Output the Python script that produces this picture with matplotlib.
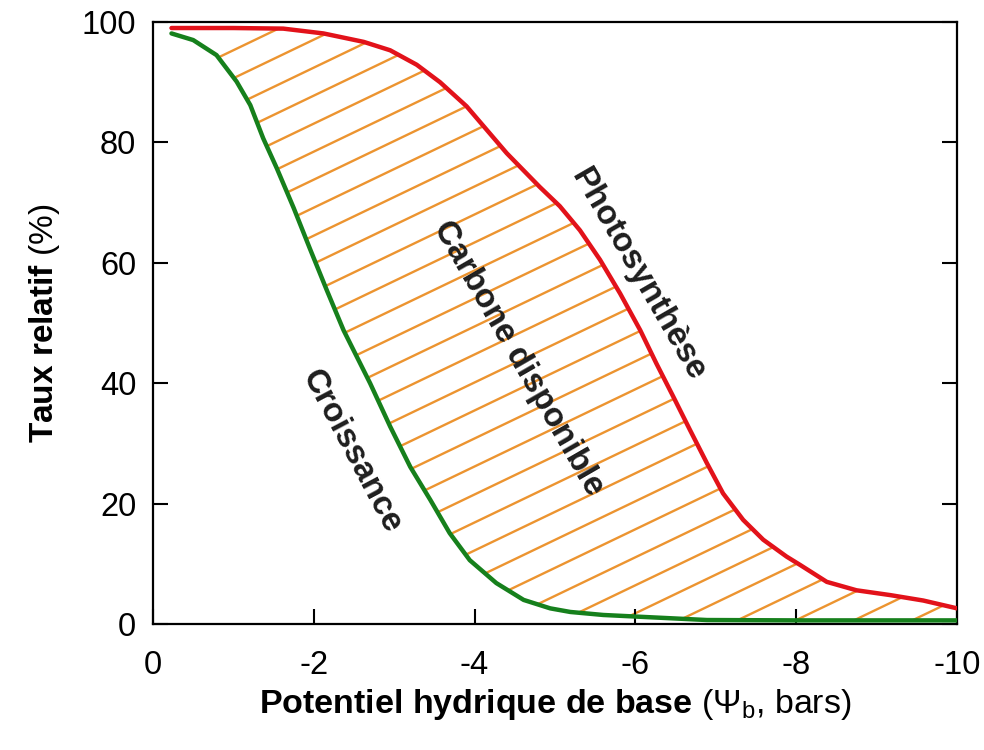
import numpy as np
import matplotlib
matplotlib.use('Agg')
import matplotlib.pyplot as plt
from matplotlib.path import Path
from matplotlib.collections import LineCollection

plt.rcParams['font.family'] = ['Liberation Sans', 'DejaVu Sans']
plt.rcParams['axes.unicode_minus'] = False
plt.rcParams['mathtext.fontset'] = 'custom'
plt.rcParams['mathtext.rm'] = 'Liberation Sans'
plt.rcParams['mathtext.bf'] = 'Liberation Sans:bold'
plt.rcParams['mathtext.it'] = 'Liberation Sans:italic'

# potentiel hydrique (bars) et taux relatifs (%)
psi_photo = [-0.23, -1.0, -1.62, -2.12, -2.62, -2.95, -3.28, -3.57, -3.9, -4.4, -4.81,
             -5.06, -5.31, -5.56, -5.81, -6.06, -6.26, -6.47, -6.68, -6.89, -7.09,
             -7.34, -7.59, -7.88, -8.05, -8.38, -8.75, -9.17, -9.58, -10.0]
photo = [99.0, 99.0, 98.9, 98.1, 96.7, 95.3, 92.9, 90.0, 86.0, 78.2, 72.6,
         69.4, 65.4, 60.5, 54.9, 48.8, 43.3, 37.8, 32.2, 26.7, 21.7,
         17.3, 14.0, 11.2, 9.8, 7.0, 5.6, 4.8, 3.9, 2.6]

psi_crois = [-0.23, -0.5, -0.79, -1.04, -1.21, -1.37, -1.54, -1.75, -1.95, -2.16,
             -2.37, -2.7, -2.95, -3.2, -3.45, -3.69, -3.94, -4.27, -4.61, -4.94,
             -5.19, -5.6, -6.06, -6.89, -8.0, -10.0]
crois = [98.1, 97.0, 94.5, 90.1, 86.2, 80.7, 75.7, 69.1, 62.4, 55.5,
         48.8, 40.0, 32.8, 26.1, 20.6, 15.1, 10.6, 6.8, 4.0, 2.6,
         2.0, 1.5, 1.2, 0.66, 0.6, 0.6]

xticks = [0, -2, -4, -6, -8, -10]
yticks = [0, 20, 40, 60, 80, 100]

rouge = '#E2121A'
vert = '#16801C'
orange = '#EC9430'
gris = '#1E1E1E'

fig = plt.figure(figsize=(9.84, 7.5), dpi=100)
ax = fig.add_axes([153 / 984, 1 - 624 / 750, 804 / 984, 602 / 750])

ax.set_xlim(0, -10)
ax.set_ylim(0, 100)

# hachures orange entre les deux courbes
verts = np.column_stack([psi_photo + psi_crois[::-1], photo + crois[::-1]])
zone = Path(np.vstack([verts, verts[:1]]), closed=True)

pente = 0.48 * 804 / 602      # pente en coordonnees d'axe
pas = 28 / 602
segs = []
for c in np.arange(0.889, -1.2, -pas):
    segs.append([(-0.1, c - 0.1 * pente), (1.1, c + 1.1 * pente)])
hach = LineCollection(segs, colors=orange, linewidths=1.7, transform=ax.transAxes, zorder=1)
ax.add_collection(hach)
hach.set_clip_path(zone, ax.transData)

ax.plot(psi_photo, photo, color=rouge, lw=3.2, solid_capstyle='round',
        solid_joinstyle='round', zorder=3)
ax.plot(psi_crois, crois, color=vert, lw=3.2, solid_capstyle='round',
        solid_joinstyle='round', zorder=3)

ax.set_xticks(xticks)
ax.set_yticks(yticks)
ax.set_xticklabels([str(t) for t in xticks])
ax.tick_params(axis='both', direction='in', length=11, width=1.5, labelsize=23.5, colors='black')
ax.tick_params(axis='x', pad=19)
ax.tick_params(axis='y', pad=12, right=True)
for s in ax.spines.values():
    s.set_linewidth(1.6)

ax.set_xlabel(r'$\mathbf{Potentiel\ hydrique\ de\ base}$ ($\Psi_\mathrm{b}$, bars)', fontsize=24.5)
ax.xaxis.label.set_va('center')
ax.xaxis.set_label_coords(0.5, (624 - 705) / 602)
ax.set_ylabel(r'$\mathbf{Taux\ relatif}$ (%)', fontsize=24)
ax.yaxis.label.set_va('center')
ax.yaxis.set_label_coords((45 - 153) / 804, 0.5)

ax.text(-6.03, 58.0, 'Photosynthèse', rotation=-60, rotation_mode='anchor',
        ha='center', va='center', fontsize=24, fontweight='bold', color=gris)
ax.text(-4.55, 44.2, 'Carbone disponible', rotation=-60, rotation_mode='anchor',
        ha='center', va='center', fontsize=24, fontweight='bold', color=gris)
ax.text(-2.47, 28.7, 'Croissance', rotation=-62, rotation_mode='anchor',
        ha='center', va='center', fontsize=24, fontweight='bold', color=gris)

fig.savefig('out.png', dpi=100)
